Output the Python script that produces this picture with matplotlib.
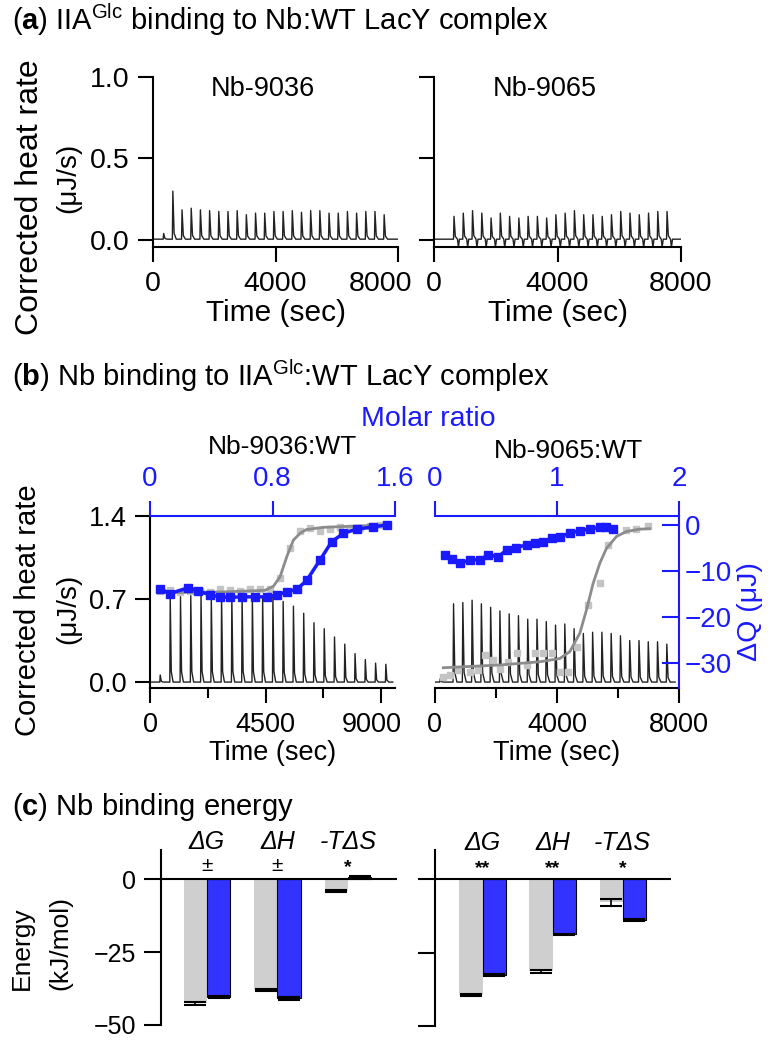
import numpy as np
import matplotlib
matplotlib.use("Agg")
import matplotlib.pyplot as plt
from matplotlib.transforms import ScaledTranslation

plt.rcParams['font.family'] = ['Liberation Sans', 'DejaVu Sans']
plt.rcParams['mathtext.fontset'] = 'custom'
plt.rcParams['mathtext.rm'] = 'Liberation Sans'
plt.rcParams['mathtext.it'] = 'Liberation Sans:italic'
plt.rcParams['mathtext.bf'] = 'Liberation Sans:bold'

W, H = 775, 1050
BLUE = '#1a1aff'
BAR_BLUE = '#3333ff'
BAR_GRAY = '#cfcfcf'
PT_GRAY = '#c4c4c4'
FIT_GRAY = '#8c8c8c'

# ---- panel (a): raw thermograms, IIAGlc into Nb:WT LacY
a1_times = [340, 640, 940, 1240, 1540, 1840, 2140, 2440, 2740, 3040, 3340, 3640, 3940,
            4240, 4540, 4840, 5140, 5440, 5740, 6040, 6340, 6640, 6940, 7240, 7540]
a1_peaks = [0.04, 0.30, 0.185, 0.195, 0.185, 0.18, 0.175, 0.175, 0.18, 0.155, 0.165, 0.165, 0.175,
            0.175, 0.18, 0.17, 0.18, 0.18, 0.165, 0.165, 0.175, 0.165, 0.175, 0.175, 0.155]
a2_times = [640, 940, 1240, 1540, 1840, 2140, 2440, 2740, 3040, 3340, 3640, 3940,
            4240, 4540, 4840, 5140, 5440, 5740, 6040, 6340, 6640, 6940, 7240, 7540]
a2_peaks = [0.145, 0.165, 0.18, 0.165, 0.135, 0.165, 0.145, 0.135, 0.145, 0.145, 0.135, 0.155,
            0.165, 0.18, 0.155, 0.155, 0.145, 0.155, 0.175, 0.165, 0.155, 0.165, 0.175, 0.175]

# ---- panel (b): Nb into IIAGlc:WT LacY
b1_times = [390, 780, 1180, 1580, 1980, 2380, 2780, 3180, 3580, 3980, 4380, 4780,
            5180, 5580, 5980, 6380, 6780, 7180, 7580, 7980, 8380, 8780, 9180]
b1_peaks = [0.06, 0.72, 0.72, 0.73, 0.73, 0.72, 0.72, 0.72, 0.72, 0.71, 0.71, 0.72,
            0.68, 0.64, 0.58, 0.50, 0.45, 0.38, 0.32, 0.24, 0.19, 0.16, 0.15]
b2_times = [165, 600, 904, 1208, 1512, 1816, 2120, 2424, 2728, 3032, 3336, 3640, 3944,
            4248, 4552, 4856, 5160, 5464, 5768, 6072, 6376, 6680, 6984, 7288, 7592]
b2_peaks = [0.03, 0.66, 0.67, 0.69, 0.66, 0.63, 0.60, 0.575, 0.56, 0.53, 0.53, 0.51, 0.48,
            0.49, 0.45, 0.41, 0.42, 0.42, 0.41, 0.39, 0.35, 0.35, 0.34, 0.34, 0.32]

# integrated heats (uJ) vs molar ratio
b1_gray_ratio = [0.065, 0.131, 0.196, 0.261, 0.327, 0.392, 0.457, 0.522, 0.588, 0.653, 0.718, 0.784,
                 0.849, 0.914, 0.980, 1.045, 1.110, 1.176, 1.241, 1.306, 1.372, 1.437, 1.502]
b1_gray_dq = [-14.3, -14.1, -14.5, -14.4, -14.3, -14.5, -13.8, -14.2, -14.3, -14.0, -13.8, -13.9,
              -11.5, -5.0, -1.3, -0.6, -1.2, -0.9, -0.5, -0.7, -0.6, -0.2, -0.1]
b1_fit_ratio = [0.065, 0.50, 0.75, 0.806, 0.85, 0.893, 0.936, 0.98, 1.02, 1.13, 1.52]
b1_fit_dq = [-14.7, -14.5, -14.2, -13.3, -11.2, -6.9, -3.3, -1.8, -1.0, -0.5, 0.0]
b1_blue_ratio = [0.065, 0.131, 0.25, 0.316, 0.392, 0.457, 0.522, 0.599, 0.686, 0.762, 0.827,
                 0.893, 0.958, 1.024, 1.11, 1.187, 1.263, 1.35, 1.459, 1.546]
b1_blue_dq = [-13.8, -14.9, -13.6, -14.3, -15.2, -15.6, -15.7, -15.6, -15.6, -15.6, -15.2,
              -14.5, -14.0, -12.0, -7.6, -3.6, -1.8, -0.9, -0.4, 0.0]

b2_gray_ratio = [0.068, 0.123, 0.191, 0.286, 0.355, 0.409, 0.477, 0.532, 0.600, 0.674, 0.750, 0.819,
                 0.887, 0.955, 1.023, 1.091, 1.160, 1.255, 1.351, 1.419, 1.569, 1.651, 1.746]
b2_gray_dq = [-33.0, -32.6, -31.5, -31.9, -31.5, -28.3, -29.4, -31.2, -29.7, -27.9, -30.4, -27.9,
              -27.9, -27.9, -31.9, -31.9, -26.4, -17.4, -12.7, -4.3, -1.0, -0.9, -0.2]
b2_fit_ratio = [0.068, 0.532, 0.859, 1.023, 1.105, 1.187, 1.241, 1.296, 1.351, 1.405, 1.487, 1.569, 1.678, 1.760]
b2_fit_dq = [-31.0, -30.4, -29.7, -29.0, -27.5, -23.5, -18.5, -12.7, -8.3, -5.1, -2.5, -1.4, -0.9, -0.8]
b2_blue_ratio = [0.082, 0.136, 0.205, 0.286, 0.368, 0.437, 0.518, 0.587, 0.668, 0.750, 0.819,
                 0.887, 0.955, 1.023, 1.105, 1.187, 1.269, 1.351, 1.405, 1.460]
b2_blue_dq = [-6.5, -7.3, -8.3, -7.6, -7.5, -6.5, -6.9, -5.4, -4.9, -4.3, -4.0,
              -3.6, -2.9, -2.5, -1.8, -1.2, -0.9, -0.5, -0.4, -0.9]

# ---- panel (c): binding energies (kJ/mol)
c_terms = ['ΔG', 'ΔH', '-TΔS']
c1_gray = [-42.6, -38.0, -4.1]
c1_blue = [-40.5, -40.9, 0.8]
c1_gray_err = [0.4, 0.4, 0.4]
c1_blue_err = [0.3, 0.4, 0.3]
c1_sig = ['±', '±', '*']
c2_gray = [-39.4, -31.4, -7.8]
c2_blue = [-32.6, -18.8, -13.8]
c2_gray_err = [0.4, 0.5, 1.2]
c2_blue_err = [0.3, 0.3, 0.3]
c2_sig = ['**', '**', '*']


def px_rect(x0, y0, x1, y1):
    return [x0 / W, 1 - y1 / H, (x1 - x0) / W, (y1 - y0) / H]


def ftext(x, y, s, **kw):
    fig.text(x / W, 1 - y / H, s, **kw)


def thermogram(times, peaks, t_end, base=0.0, dip=0.0):
    xs, ys = [0.0], [base]
    for t, h in zip(times, peaks):
        xs += [t - 8, t + 8, t + 50, t + 120]
        ys += [base, h, base + 0.12 * h, base]
        if dip:
            xs += [t + 150, t + 185]
            ys += [base - dip, base]
    xs.append(t_end)
    ys.append(base)
    return xs, ys


def style(ax, size):
    for s in ax.spines.values():
        s.set_linewidth(1.5)
    ax.spines['top'].set_visible(False)
    ax.spines['right'].set_visible(False)
    ax.tick_params(direction='out', length=11, width=1.5, labelsize=size, pad=6)
    ax.tick_params(which='minor', direction='out', length=7, width=1.5)
    ax.patch.set_alpha(0)


def shift_last_xlabel(ax, dx_px):
    lab = ax.xaxis.get_majorticklabels()[-1]
    lab.set_transform(lab.get_transform() + ScaledTranslation(dx_px / 100, 0, fig.dpi_scale_trans))


fig = plt.figure(figsize=(W / 100, H / 100), dpi=100)

# ================= (a)
ftext(12, 20, r'($\mathbf{a}$) IIA$^{\mathrm{Glc}}$ binding to Nb:WT LacY complex', fontsize=21, va='center')
for i, (rect, times, peaks, name, dip) in enumerate([
        ((153, 77, 398, 247), a1_times, a1_peaks, 'Nb-9036', 0.0),
        ((434, 77, 681, 247), a2_times, a2_peaks, 'Nb-9065', 0.05)]):
    ax = fig.add_axes(px_rect(*rect))
    xs, ys = thermogram(times, peaks, 8000, base=0.005, dip=dip)
    ax.plot(xs, ys, color='#222222', lw=1.0)
    ax.set_xlim(0, 8000)
    ax.set_ylim(-0.043, 1.0)
    ax.set_xticks([0, 4000, 8000])
    ax.set_yticks([0.0, 0.5, 1.0])
    ax.set_yticklabels(['0.0', '0.5', '1.0'])
    style(ax, 20.5)
    ax.spines['left'].set_bounds(-0.043, 1.0)
    if i == 0:
        shift_last_xlabel(ax, -17)
    else:
        ax.set_yticklabels([])
    ax.text(0.45, 0.93, name, transform=ax.transAxes, ha='center', va='center', fontsize=19.5)
    ax.set_xlabel('Time (sec)', fontsize=21.5, labelpad=2)
ftext(30, 197, 'Corrected heat rate', rotation=90, ha='center', va='center', fontsize=23)
ftext(68, 178, '(μJ/s)', rotation=90, ha='center', va='center', fontsize=20)

# ================= (b)
ftext(12, 376, r'($\mathbf{b}$) Nb binding to IIA$^{\mathrm{Glc}}$:WT LacY complex', fontsize=21, va='center')
ftext(428, 419, 'Molar ratio', color=BLUE, ha='center', va='center', fontsize=20.5)

panels_b = [
    ((150, 516, 395, 688), b1_times, b1_peaks, 9545, [0, 4500, 9000], [2250, 6750],
     1.6, [0, 0.8, 1.6], ['0', '0.8', '1.6'],
     b1_gray_ratio, b1_gray_dq, b1_fit_ratio, b1_fit_dq, b1_blue_ratio, b1_blue_dq, 'Nb-9036:WT', 283, 447),
    ((435, 516, 679, 688), b2_times, b2_peaks, 8000, [0, 4000, 8000], [2000, 6000],
     2.0, [0, 1, 2], ['0', '1', '2'],
     b2_gray_ratio, b2_gray_dq, b2_fit_ratio, b2_fit_dq, b2_blue_ratio, b2_blue_dq, 'Nb-9065:WT', 568, 451),
]
for i, (rect, times, peaks, xmax, xt, xmin_t, rmax, rt, rtl,
        gr, gq, fr, fq, br, bq, name, nx, ny) in enumerate(panels_b):
    ax = fig.add_axes(px_rect(*rect))
    xs, ys = thermogram(times, peaks, times[-1] + 280)
    ax.plot(xs, ys, color='#222222', lw=1.0)
    ax.set_xlim(0, xmax)
    ax.set_ylim(-0.05, 1.4)
    ax.set_xticks(xt)
    ax.set_xticks(xmin_t, minor=True)
    ax.set_yticks([0.0, 0.7, 1.4])
    ax.set_yticklabels(['0.0', '0.7', '1.4'])
    style(ax, 19.5)
    ax.set_xlabel('Time (sec)', fontsize=19.5, labelpad=2)
    if i == 0:
        shift_last_xlabel(ax, -9)
    else:
        ax.spines['left'].set_visible(False)
        ax.set_yticks([])

    axq = fig.add_axes(px_rect(*rect), facecolor='none')
    axq.set_xlim(0, rmax)
    axq.set_ylim(-35.4, 1.96)
    axq.plot(gr, gq, 's', color=PT_GRAY, ms=5, mec=PT_GRAY)
    axq.plot(fr, fq, '-', color=FIT_GRAY, lw=2)
    axq.plot(br, bq, 's-', color=BLUE, ms=5.5, lw=2.5)
    for s in axq.spines.values():
        s.set_visible(False)
        s.set_linewidth(1.5)
        s.set_color(BLUE)
    axq.spines['top'].set_visible(True)
    axq.xaxis.tick_top()
    axq.set_xticks(rt)
    axq.set_xticklabels(rtl)
    axq.tick_params(axis='x', direction='out', length=11, width=1.5, color=BLUE,
                    labelcolor=BLUE, labelsize=20, pad=6)
    if i == 1:
        axq.spines['right'].set_visible(True)
        axq.yaxis.tick_right()
        axq.set_yticks([0, -10, -20, -30])
        axq.tick_params(axis='y', direction='in', length=12, width=1.5, color=BLUE,
                        labelcolor=BLUE, labelsize=20, pad=4)
    else:
        axq.set_yticks([])
    ftext(nx, ny, name, ha='center', va='center', fontsize=19)

ftext(28, 610, 'Corrected heat rate', rotation=90, ha='center', va='center', fontsize=21)
ftext(68, 609, '(μJ/s)', rotation=90, ha='center', va='center', fontsize=20)
ftext(750, 612, 'ΔQ (μJ)', rotation=90, ha='center', va='center', fontsize=20.5, color=BLUE)

# ================= (c)
ftext(12, 807, r'($\mathbf{c}$) Nb binding energy', fontsize=21, va='center')
bw = 0.33
for i, (rect, xl, gray, blue, gerr, berr, sig) in enumerate([
        ((161, 850, 397, 1025), (-0.652, 2.695), c1_gray, c1_blue, c1_gray_err, c1_blue_err, c1_sig),
        ((435, 850, 671, 1026), (-0.679, 2.69), c2_gray, c2_blue, c2_gray_err, c2_blue_err, c2_sig)]):
    ax = fig.add_axes(px_rect(*rect))
    x = np.arange(len(gray))
    ax.bar(x - bw / 2, gray, bw, color=BAR_GRAY, zorder=2)
    ax.bar(x + bw / 2, blue, bw, color=BAR_BLUE, edgecolor='black', linewidth=0.8, zorder=2)
    ax.errorbar(x - bw / 2, gray, yerr=gerr, fmt='none', ecolor='black', capsize=8,
                capthick=1.5, elinewidth=1.2, zorder=3)
    ax.errorbar(x + bw / 2, blue, yerr=berr, fmt='none', ecolor='black', capsize=8,
                capthick=1.5, elinewidth=1.2, zorder=3)
    ax.axhline(0, color='black', lw=1.5, zorder=4)
    ax.set_xlim(*xl)
    ax.set_ylim(-50, 10)
    ax.set_yticks([0, -25, -50])
    style(ax, 18)
    ax.spines['bottom'].set_visible(False)
    ax.set_xticks([])
    ax.tick_params(axis='y', length=12)
    if i == 1:
        ax.set_yticklabels([])
    for xi, term, s in zip(x, c_terms, sig):
        ax.annotate(term, (xi, 0), xytext=(0, 26.5), textcoords='offset points',
                    ha='center', va='center', fontsize=18, fontstyle='italic')
        if s == '±':
            ax.annotate(s, (xi, 0), xytext=(0, 9.5), textcoords='offset points',
                        ha='center', va='center', fontsize=15)
        else:
            ax.annotate(s, (xi, 0), xytext=(0, 8), textcoords='offset points',
                        ha='center', va='center', fontsize=14, fontweight='bold')

ftext(22, 990, 'Energy', rotation=90, ha='center', va='bottom', fontsize=19)
ftext(60, 990, '(kJ/mol)', rotation=90, ha='center', va='bottom', fontsize=19)

fig.savefig('out.png', dpi=100)
